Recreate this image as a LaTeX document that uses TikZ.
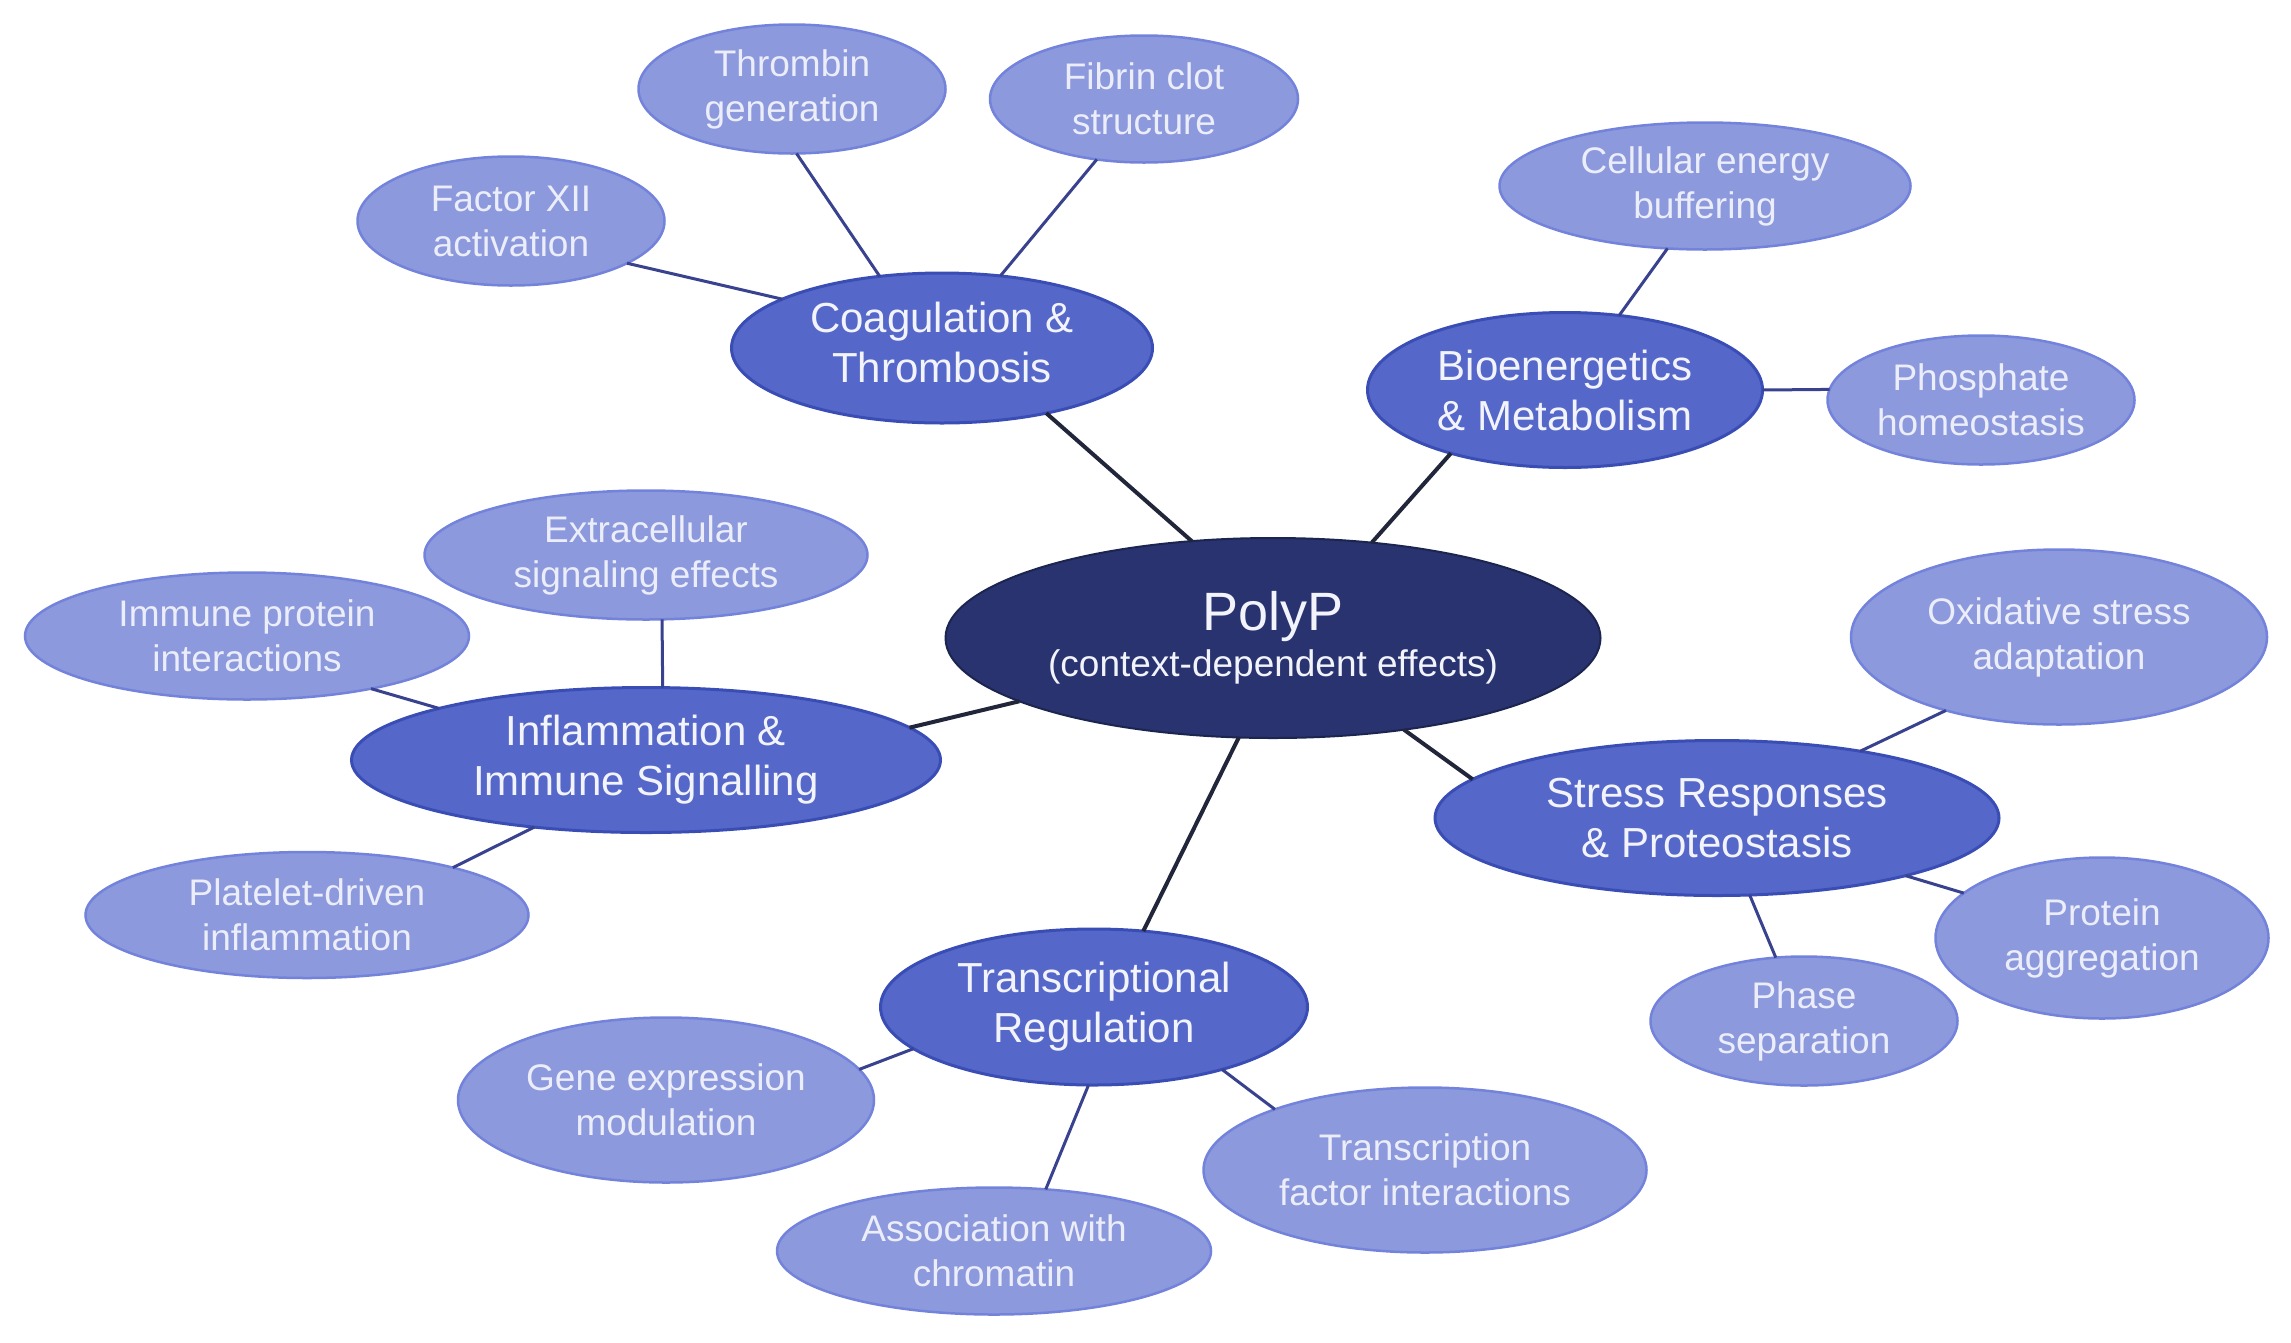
\documentclass[tikz,border=0pt]{standalone}
\usepackage{fontspec}
\setmainfont{Liberation Sans}
\usetikzlibrary{shapes.geometric}
\definecolor{corefill}{HTML}{28336F}
\definecolor{coreline}{HTML}{1C2550}
\definecolor{catfill}{HTML}{5568C9}
\definecolor{catline}{HTML}{3A4DB5}
\definecolor{leaffill}{HTML}{8D99DD}
\definecolor{leafline}{HTML}{7382DA}
\definecolor{txt}{HTML}{F2F3FB}
\definecolor{leaftxt}{HTML}{EBEDF9}
\definecolor{mainedge}{HTML}{22263A}
\definecolor{leafedge}{HTML}{38428F}
\tikzset{
  core/.style={ellipse, fill=corefill, draw=coreline, line width=2pt, inner sep=0pt, outer sep=0pt, text=txt, align=center, font=\fontsize{37}{46}\selectfont},
  cat/.style={ellipse, fill=catfill, draw=catline, line width=3pt, inner sep=0pt, outer sep=0pt, text=txt, align=center, font=\fontsize{42}{50}\selectfont},
  leaf/.style={ellipse, fill=leaffill, draw=leafline, line width=2.5pt, inner sep=0pt, outer sep=0pt, text=leaftxt, align=center, font=\fontsize{37}{45}\selectfont},
  mainlink/.style={draw=mainedge, line width=4pt},
  leaflink/.style={draw=leafedge, line width=3pt},
}
\begin{document}
\begin{tikzpicture}[x=1pt,y=-1pt]
\useasboundingbox (0,0) rectangle (2291,1342);
% core
\node[core, minimum width=655, minimum height=200] (polyp) at (1273,638)
  {{\fontsize{54}{60}\selectfont PolyP}\\(context-dependent effects)};
% categories
\node[cat, minimum width=421, minimum height=150, text depth=12pt] (coag) at (942,348) {Coagulation \&\\Thrombosis};
\node[cat, minimum width=395, minimum height=155] (bio) at (1565,390) {Bioenergetics\\\& Metabolism};
\node[cat, minimum width=589, minimum height=145] (infl) at (646,760) {Inflammation \&\\Immune Signalling};
\node[cat, minimum width=564, minimum height=155] (stress) at (1717,818) {Stress Responses\\\& Proteostasis};
\node[cat, minimum width=427, minimum height=156] (trans) at (1094,1007) {Transcriptional\\Regulation};
% leaves
\node[leaf, minimum width=307, minimum height=129] (thrombin) at (792,89) {Thrombin\\generation};
\node[leaf, minimum width=308, minimum height=127] (fibrin) at (1144,99) {Fibrin clot\\structure};
\node[leaf, minimum width=307, minimum height=129] (fxii) at (511,221) {Factor XII\\activation};
\node[leaf, minimum width=411, minimum height=127] (cell) at (1705,186) {Cellular energy\\buffering};
\node[leaf, minimum width=307, minimum height=129] (phos) at (1981,400) {Phosphate\\homeostasis};
\node[leaf, minimum width=443, minimum height=129] (extra) at (646,555) {Extracellular\\signaling effects};
\node[leaf, minimum width=444, minimum height=127] (immune) at (247,636) {Immune protein\\interactions};
\node[leaf, minimum width=443, minimum height=126] (platelet) at (307,915) {Platelet-driven\\inflammation};
\node[leaf, minimum width=416, minimum height=175] (oxid) at (2059,637) {Oxidative stress\\adaptation};
\node[leaf, minimum width=333, minimum height=161] (protagg) at (2102,938) {Protein\\aggregation};
\node[leaf, minimum width=307, minimum height=129] (phase) at (1804,1021) {Phase\\separation};
\node[leaf, minimum width=416, minimum height=165] (gene) at (666,1100) {Gene expression\\modulation};
\node[leaf, minimum width=434, minimum height=127] (assoc) at (994,1251) {Association with\\chromatin};
\node[leaf, minimum width=443, minimum height=165] (tf) at (1425,1170) {Transcription\\factor interactions};
% main links
\draw[mainlink] (polyp.130.1) -- (coag.-32);
\draw[mainlink] (polyp.44.2) -- (bio.-151.2);
\draw[mainlink] (polyp.-166.1) -- (infl.7.1);
\draw[mainlink] (polyp.-35.1) -- (stress.171.2);
\draw[mainlink] (polyp.-109.4) -- (trans.57.3);
% leaf links
\draw[leaflink] (fxii.-20.6) -- (coag.163.5);
\draw[leaflink] (thrombin.-86.1) -- (coag.131.6);
\draw[leaflink] (fibrin.-128.5) -- (coag.51.3);
\draw[leaflink] (cell.-121.5) -- (bio.54.2);
\draw[leaflink] (phos.176.2) -- (bio.0);
\draw[leaflink] (extra.-76) -- (infl.77.6);
\draw[leaflink] (immune.-23.6) -- (infl.166.8);
\draw[leaflink] (platelet.18.9) -- (infl.-149);
\draw[leaflink] (oxid.-147.2) -- (stress.25.2);
\draw[leaflink] (protagg.162.3) -- (stress.-17.6);
\draw[leaflink] (phase.114.9) -- (stress.-67.8);
\draw[leaflink] (gene.9.4) -- (trans.-167.2);
\draw[leaflink] (assoc.50.3) -- (trans.-94.2);
\draw[leaflink] (tf.158.3) -- (trans.-26.3);
\end{tikzpicture}
\end{document}
